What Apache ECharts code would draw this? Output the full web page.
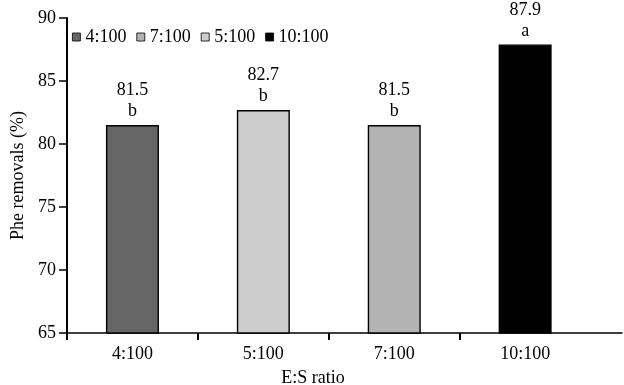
<!DOCTYPE html>
<html><head><meta charset="utf-8">
<script src="https://cdn.jsdelivr.net/npm/echarts@6/dist/echarts.min.js"></script>
<style>html,body{margin:0;padding:0;background:#fff}#c{width:624px;height:385px}</style>
</head><body><div id="c"></div>
<script>
const categories = ['4:100', '5:100', '7:100', '10:100'];
const values = [81.5, 82.7, 81.5, 87.9];
const letters = ['b', 'b', 'b', 'a'];
const legendOrder = ['4:100', '7:100', '5:100', '10:100'];
const colors = {'4:100': '#666666', '5:100': '#cccccc', '7:100': '#b3b3b3', '10:100': '#000000'};
const yTicks = [65, 70, 75, 80, 85, 90];

const font = 'Liberation Serif';
const chart = echarts.init(document.getElementById('c'));
// categorical slots on a value axis: slot i spans [i, i+1], bar centred at i + 0.5
const slotCenters = categories.map((c, i) => i + 0.5);
const slotEdges = categories.map((c, i) => i);
const series = categories.map((cat, i) => ({
  name: cat,
  type: 'bar',
  barWidth: 53,
  barGap: '-100%',
  data: [[slotCenters[i], values[i]]],
  itemStyle: {color: colors[cat], borderColor: '#000', borderWidth: 1.4},
  label: {
    show: true, position: 'top', distance: 3,
    formatter: p => '{v|' + p.value[1].toFixed(1) + '}\n{l|' + letters[i] + '}',
    rich: {
      v: {fontFamily: font, fontSize: 18, color: '#000', lineHeight: 21},
      l: {fontFamily: font, fontSize: 18, color: '#000', lineHeight: 21}
    }
  }
}));
chart.setOption({
  animation: false,
  grid: {left: 67, right: 2, top: 18, bottom: 52, outerBoundsMode: 'none', containLabel: false},
  legend: {
    data: legendOrder, left: 67, top: 23, itemWidth: 8, itemHeight: 8, itemGap: 10,
    icon: 'rect',
    itemStyle: {borderColor: '#000', borderWidth: 0.8},
    textStyle: {fontFamily: font, fontSize: 18, color: '#000'}
  },
  xAxis: {
    type: 'value', min: 0, max: 4.24,
    name: 'E:S ratio', nameLocation: 'middle', nameGap: 36,
    nameTextStyle: {fontFamily: font, fontSize: 18, color: '#000', padding: [0, 63, 0, 0]},
    axisLine: {show: true, lineStyle: {color: '#000', width: 1.5}},
    axisTick: {show: true, length: 7, customValues: slotEdges, lineStyle: {color: '#000', width: 2}},
    axisLabel: {fontFamily: font, fontSize: 18, color: '#000', margin: 12,
      customValues: slotCenters, formatter: v => categories[Math.round(v - 0.5)] || ''},
    splitLine: {show: false}
  },
  yAxis: {
    type: 'value', min: 65, max: 90, interval: 5,
    name: 'Phe removals (%)', nameLocation: 'middle', nameGap: 38,
    nameTextStyle: {fontFamily: font, fontSize: 18, color: '#000'},
    axisLine: {show: true, lineStyle: {color: '#000', width: 2}},
    axisTick: {show: true, length: 8, lineStyle: {color: '#000', width: 1.5}},
    axisLabel: {fontFamily: font, fontSize: 18, color: '#000', margin: 11,
      formatter: v => yTicks.includes(v) ? String(v) : ''},
    splitLine: {show: false}
  },
  series: series
});
</script></body></html>
